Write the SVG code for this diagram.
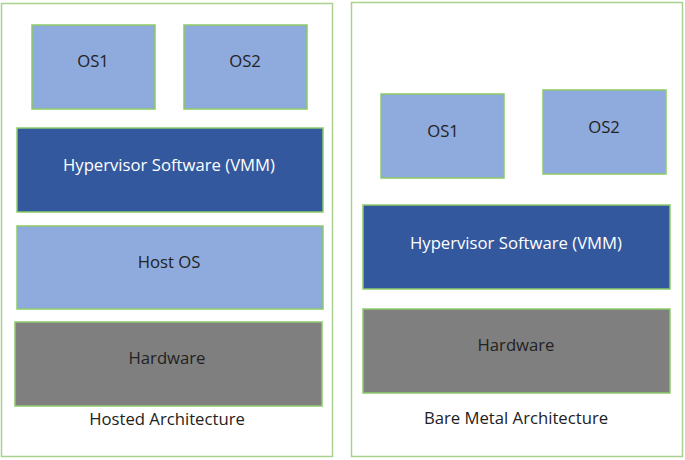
<svg xmlns="http://www.w3.org/2000/svg" width="685" height="460" viewBox="0 0 685 460">
<style>
.panel{fill:#fff;stroke:#a9d18e;stroke-width:1.5}
.box{stroke:#8dca6a;stroke-width:1.5}
.os{fill:#8faadc}
.hyp{fill:#34589e}
.hw{fill:#7f7f7f}
text{font-family:"Open Sans","Liberation Sans",Arial,sans-serif;font-size:16.7px;text-anchor:middle;dominant-baseline:central;fill:#222}
.w{fill:#fff}
</style>
<rect width="685" height="460" fill="#fff"/>
<g id="hosted">
<rect class="panel" x="1.5" y="3.5" width="331" height="453"/>
<text x="167" y="418">Hosted Architecture</text>
</g>
<g id="h-os1"><rect class="box os" x="32" y="25" width="123" height="84"/><text x="93" y="60">OS1</text></g>
<g id="h-os2"><rect class="box os" x="184" y="25" width="123" height="84"/><text x="245" y="60">OS2</text></g>
<g id="h-hyp"><rect class="box hyp" x="17" y="128" width="306" height="84"/><text class="w" x="169" y="164">Hypervisor Software (VMM)</text></g>
<g id="h-host"><rect class="box os" x="17" y="226" width="306" height="83"/><text x="169" y="261">Host OS</text></g>
<g id="h-hw"><rect class="box hw" x="15" y="322" width="307" height="84"/><text x="167" y="357">Hardware</text></g>
<g id="baremetal">
<rect class="panel" x="351.5" y="2.5" width="331" height="454"/>
<text x="516" y="417">Bare Metal Architecture</text>
</g>
<g id="b-os1"><rect class="box os" x="381" y="94" width="123" height="84"/><text x="443" y="130">OS1</text></g>
<g id="b-os2"><rect class="box os" x="543" y="90" width="123" height="84"/><text x="604" y="126">OS2</text></g>
<g id="b-hyp"><rect class="box hyp" x="363" y="205" width="307" height="84"/><text class="w" x="516" y="242">Hypervisor Software (VMM)</text></g>
<g id="b-hw"><rect class="box hw" x="363" y="309" width="307" height="84"/><text x="516" y="344">Hardware</text></g>
<g id="connectors"/>
</svg>
